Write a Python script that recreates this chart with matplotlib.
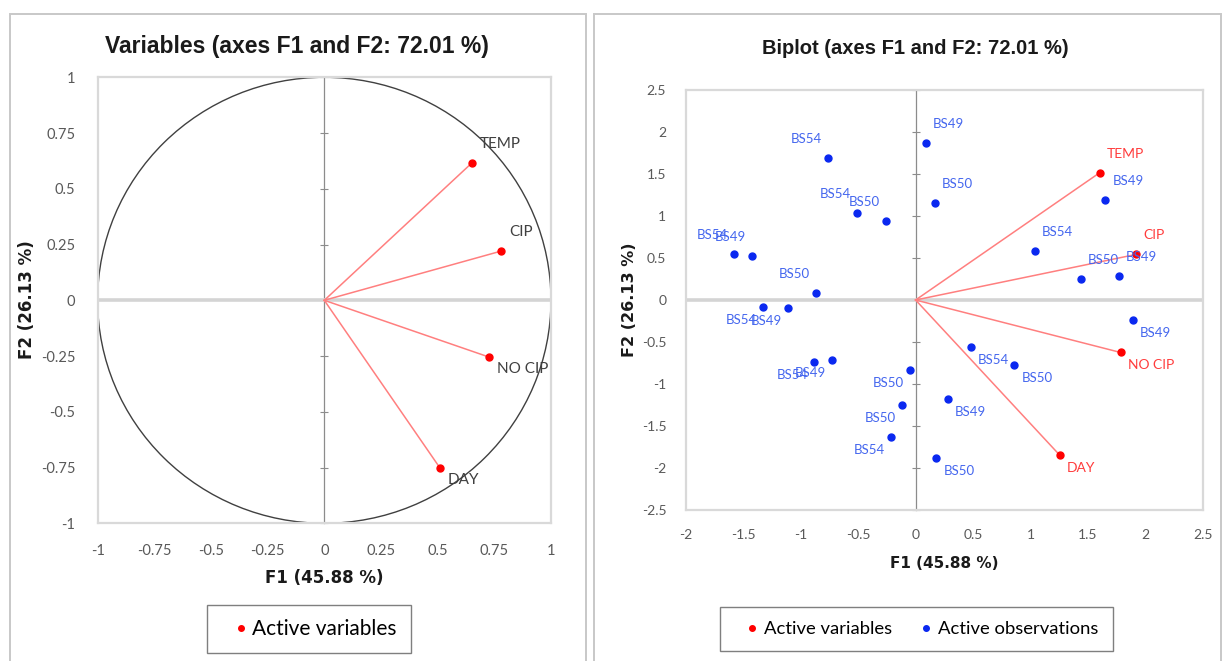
import matplotlib
matplotlib.use("Agg")
import matplotlib.pyplot as plt
from matplotlib.lines import Line2D
from matplotlib.patches import Rectangle, Circle

# ---- data -------------------------------------------------------------
var_names = ["TEMP", "CIP", "NO CIP", "DAY"]
var_f1 = [0.651, 0.781, 0.725, 0.509]
var_f2 = [0.616, 0.221, -0.254, -0.750]
biplot_scale = 2.46   # loadings are stretched by this factor on the biplot

obs_names = ["BS49", "BS50", "BS49", "BS54", "BS50", "BS49", "BS49", "BS54",
             "BS50", "BS49", "BS50", "BS54", "BS54", "BS50", "BS54", "BS49",
             "BS50", "BS54", "BS49", "BS54", "BS49", "BS50", "BS50", "BS54"]
obs_f1 = [0.09, 0.17, 1.65, 1.04, 1.44, 1.77, 1.89, 0.48,
          0.86, 0.28, 0.18, -0.76, -0.51, -0.26, -1.58, -1.42,
          -0.87, -1.33, -1.11, -0.88, -0.73, -0.05, -0.12, -0.21]
obs_f2 = [1.87, 1.16, 1.19, 0.58, 0.25, 0.29, -0.24, -0.56,
          -0.77, -1.18, -1.88, 1.69, 1.03, 0.94, 0.55, 0.52,
          0.08, -0.08, -0.10, -0.74, -0.71, -0.83, -1.25, -1.63]

circle_ticks = [-1, -0.75, -0.5, -0.25, 0, 0.25, 0.5, 0.75, 1]
circle_tick_labels = ["-1", "-0.75", "-0.5", "-0.25", "0", "0.25", "0.5", "0.75", "1"]
biplot_xticks = [-2, -1.5, -1, -0.5, 0, 0.5, 1, 1.5, 2, 2.5]
biplot_xtick_labels = ["-2", "-1.5", "-1", "-0.5", "0", "0.5", "1", "1.5", "2", "2.5"]
biplot_yticks = [-2.5, -2, -1.5, -1, -0.5, 0, 0.5, 1, 1.5, 2, 2.5]
biplot_ytick_labels = ["-2.5", "-2", "-1.5", "-1", "-0.5", "0", "0.5", "1", "1.5", "2", "2.5"]

title_left = "Variables (axes F1 and F2: 72.01 %)"
title_right = "Biplot (axes F1 and F2: 72.01 %)"
xlabel = "F1 (45.88 %)"
ylabel = "F2 (26.13 %)"

# ---- styling -----------------------------------------------------------
W, H = 1224, 661
RED = "#ff0000"
RED_LINE = "#ff7f7f"
RED_TEXT = "#ff3c3c"
BLUE = "#0a28f0"
BLUE_TEXT = "#4466ee"
TICK_COLOR = "#595959"
SANS = ["Lato", "DejaVu Sans"]
TITLE_FONT = ["Liberation Sans", "DejaVu Sans"]
LABEL_FONT = ["DejaVu Sans"]

fig = plt.figure(figsize=(W / 100, H / 100), dpi=100)
fig.patch.set_facecolor("white")


def px_axes(x0, y0, x1, y1):
    return fig.add_axes([x0 / W, 1 - y1 / H, (x1 - x0) / W, (y1 - y0) / H])


def px_rect(x0, y0, x1, y1, **kw):
    r = Rectangle((x0 / W, 1 - y1 / H), (x1 - x0) / W, (y1 - y0) / H,
                  transform=fig.transFigure, fill=False, clip_on=False, **kw)
    fig.add_artist(r)


def style_axes(ax, xlim, ylim, xt, xtl, yt, ytl, fs, xpad, ypad):
    ax.set_xlim(xlim)
    ax.set_ylim(ylim)
    for s in ax.spines.values():
        s.set_color("#d9d9d9")
        s.set_linewidth(1.6)
    ax.set_xticks(xt)
    ax.set_xticklabels(xtl, family=SANS)
    ax.set_yticks(yt)
    ax.set_yticklabels(ytl, family=SANS)
    ax.tick_params(axis="both", length=0, labelsize=fs, labelcolor=TICK_COLOR)
    ax.tick_params(axis="x", pad=xpad)
    ax.tick_params(axis="y", pad=ypad)
    ax.axhline(0, color="#d4d4d4", lw=2.6, zorder=1)
    # vertical axis through x = 0 with crossing tick marks
    loc = (0 - xlim[0]) / (xlim[1] - xlim[0])
    sec = ax.secondary_yaxis(loc)
    sec.set_yticks(yt)
    sec.tick_params(direction="inout", length=6, width=0.8, color="#8c8c8c",
                    labelleft=False, labelright=False)
    for side in ("left", "right"):
        sec.spines[side].set_color("#8c8c8c")
        sec.spines[side].set_linewidth(0.9)


def place_label(ax, x, y, text, color, fs, dx_pos, dx_neg, dy_pos, dy_neg):
    right = x >= 0
    ax.annotate(text, (x, y),
                xytext=(dx_pos if right else dx_neg, dy_pos if y >= 0 else dy_neg),
                textcoords="offset pixels", ha="left" if right else "right",
                va="center", fontsize=fs, color=color, family=SANS, zorder=6)


# ---- panel frames --------------------------------------------------------
px_rect(10, 14, 585.5, 700, ec="#c8c8c8", lw=1.4)
px_rect(594, 14, 1221, 700, ec="#c8c8c8", lw=1.4)

# ---- correlation circle ------------------------------------------------
ax1 = px_axes(97.6, 77.3, 551, 523.3)
style_axes(ax1, (-1, 1), (-1, 1), circle_ticks, circle_tick_labels,
           circle_ticks, circle_tick_labels, 10.5, 15, 16)
ax1.add_patch(Circle((0, 0), 1, fill=False, ec="#404040", lw=1.0, zorder=2))
for name, x, y in zip(var_names, var_f1, var_f2):
    ax1.plot([0, x], [0, y], color=RED_LINE, lw=1.1, zorder=3)
    place_label(ax1, x, y, name, "#404040", 11, 8, -8, 19, -12)
ax1.plot(var_f1, var_f2, "o", color=RED, ms=5, zorder=4, clip_on=False)

fig.text(297 / W, 1 - 47 / H, title_left, ha="center", va="center",
         fontsize=16.5, fontweight="bold", family=TITLE_FONT, color="#1a1a1a")
fig.text(324 / W, 1 - 578 / H, xlabel, ha="center", va="center",
         fontsize=12, fontweight="bold", family=LABEL_FONT, color="#1a1a1a")
fig.text(27 / W, 1 - 300 / H, ylabel, ha="center", va="center", rotation=90,
         fontsize=12, fontweight="bold", family=LABEL_FONT, color="#1a1a1a")

fig.legend(handles=[Line2D([], [], ls="none", marker="o", ms=4, color=RED,
                           label="Active variables")],
           loc="center", bbox_to_anchor=(309 / W, 1 - 629 / H),
           bbox_transform=fig.transFigure, prop={"family": SANS, "size": 15},
           frameon=True, fancybox=False, edgecolor="#7f7f7f", framealpha=1,
           borderpad=0.65, handlelength=1.87, handletextpad=-0.36)

# ---- biplot --------------------------------------------------------------
ax2 = px_axes(685.7, 90, 1203, 510)
style_axes(ax2, (-2, 2.5), (-2.5, 2.5), biplot_xticks, biplot_xtick_labels,
           biplot_yticks, biplot_ytick_labels, 10, 14, 14)
bx = [v * biplot_scale for v in var_f1]
by = [v * biplot_scale for v in var_f2]
for name, x, y in zip(var_names, bx, by):
    ax2.plot([0, x], [0, y], color=RED_LINE, lw=1.1, zorder=3)
    place_label(ax2, x, y, name, RED_TEXT, 10, 7, -6, 19, -13)
ax2.plot(bx, by, "o", color=RED, ms=5, zorder=4)
ax2.plot(obs_f1, obs_f2, "o", color=BLUE, ms=5, zorder=4)
for name, x, y in zip(obs_names, obs_f1, obs_f2):
    place_label(ax2, x, y, name, BLUE_TEXT, 9.5, 7, -6, 19, -13)

fig.text(915.6 / W, 1 - 48 / H, title_right, ha="center", va="center",
         fontsize=14.5, fontweight="bold", family=TITLE_FONT, color="#1a1a1a")
fig.text(944 / W, 1 - 563 / H, xlabel, ha="center", va="center",
         fontsize=11, fontweight="bold", family=LABEL_FONT, color="#1a1a1a")
fig.text(630 / W, 1 - 300 / H, ylabel, ha="center", va="center", rotation=90,
         fontsize=11.5, fontweight="bold", family=LABEL_FONT, color="#1a1a1a")

fig.legend(handles=[Line2D([], [], ls="none", marker="o", ms=4, color=RED,
                           label="Active variables"),
                    Line2D([], [], ls="none", marker="o", ms=4, color=BLUE,
                           label="Active observations")],
           loc="center", bbox_to_anchor=(916.5 / W, 1 - 629 / H), ncol=2,
           bbox_transform=fig.transFigure, prop={"family": SANS, "size": 13.3},
           frameon=True, fancybox=False, edgecolor="#7f7f7f", framealpha=1,
           borderpad=0.75, handlelength=1.95, handletextpad=-0.32,
           columnspacing=0.86)

fig.savefig("out.png", dpi=100, facecolor="white")
